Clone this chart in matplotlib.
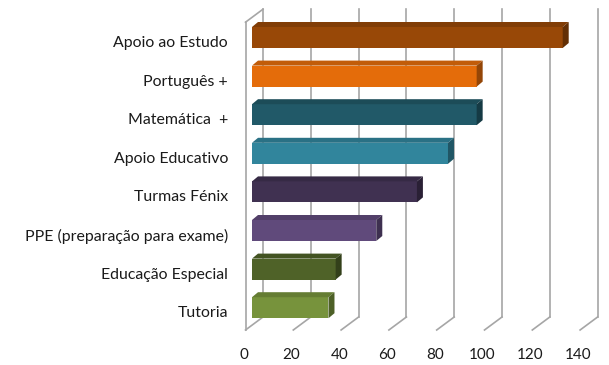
import numpy as np
import matplotlib.pyplot as plt
from matplotlib.patches import Polygon
from matplotlib.colors import to_rgb

categorias = ["Apoio ao Estudo", "Português +", "Matemática  +", "Apoio Educativo",
              "Turmas Fénix", "PPE (preparação para exame)", "Educação Especial", "Tutoria"]
valores = [130, 94, 94, 82, 69, 52, 35, 32]
cores = ["#984807", "#E46C0A", "#215968", "#31859C",
         "#403151", "#604A7B", "#4F6228", "#77933C"]
ticks = [0, 20, 40, 60, 80, 100, 120, 140]

W, H = 609, 365
XS = 2.39    # px por unidade
YS = 38.6    # px por categoria
X0, Y0 = 252, 37.5   # origem (px) do plano das barras

def px2x(px):
    return (px - X0) / XS

def py2y(py):
    return (py - Y0) / YS

def shade(c, f):
    r, g, b = to_rgb(c)
    if f > 1:
        return tuple(v + (1 - v) * (f - 1) for v in (r, g, b))
    return tuple(v * f for v in (r, g, b))

fig = plt.figure(figsize=(W / 100, H / 100), dpi=100)
ax = fig.add_axes([0, 0, 1, 1])
ax.set_xlim(px2x(0), px2x(W))
ax.set_ylim(py2y(H), py2y(0))
ax.axis("off")

grid = "#A6A6A6"
# deslocamentos da parede (px): frente e fundo em relação ao plano das barras
fx, fy = -6.5 / XS, 4.7 / YS
bx, by = 11.0 / XS, -8.3 / YS
y_chao = py2y(325.3)
y_topo = py2y(17.5)

# linhas de grelha na parede de fundo e diagonais do chão
for t in ticks:
    ax.plot([t + bx, t + bx], [y_topo + by, y_chao + by], color=grid, lw=1.2, zorder=1)
    ax.plot([t + fx, t + bx], [y_chao + fy, y_chao + by], color=grid, lw=1.2, zorder=1)
    ax.text(t + fx - 0.8, py2y(355), str(t), ha="center", va="center",
            fontsize=11, family="Lato", color="#1a1a1a")

# parede lateral esquerda
ax.plot([fx, fx], [y_topo + fy, y_chao + fy], color=grid, lw=1.2, zorder=1)
ax.plot([fx, bx], [y_topo + fy, y_topo + by], color=grid, lw=1.2, zorder=1)

# barras 3D: face frontal + topo + lado
idx = np.arange(len(categorias))
h = 21 / YS
ddx, ddy = 6 / XS, -5 / YS
ax.barh(idx, valores, left=0, height=h, color=cores, zorder=3, edgecolor="none")
for i, (v, c) in enumerate(zip(valores, cores)):
    top = i - h / 2
    bot = i + h / 2
    ax.add_patch(Polygon([(0, top), (v, top), (v + ddx, top + ddy), (ddx, top + ddy)],
                         closed=True, facecolor=shade(c, 0.85), edgecolor="none", zorder=3))
    ax.add_patch(Polygon([(v, top), (v + ddx, top + ddy), (v + ddx, bot + ddy), (v, bot)],
                         closed=True, facecolor=shade(c, 0.65), edgecolor="none", zorder=3))
    ax.text(px2x(228), i + 5.5 / YS, categorias[i], ha="right", va="center",
            fontsize=11.4, family="Lato", color="#1a1a1a")

fig.savefig("out.png", dpi=100)
